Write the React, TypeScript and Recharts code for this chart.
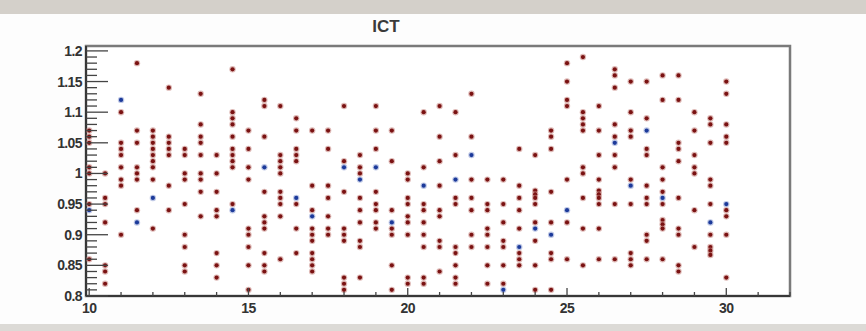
import { ScatterChart, Scatter, XAxis, YAxis, ReferenceArea } from "recharts";

// x positions of the measurement columns
const columns = [
  10, 10.5, 11, 11.5, 12, 12.5, 13, 13.5, 14, 14.5, 15, 15.5, 16, 16.5, 17, 17.5,
  18, 18.5, 19, 19.5, 20, 20.5, 21, 21.5, 22, 22.5, 23, 23.5, 24, 24.5, 25, 25.5,
  26, 26.5, 27, 27.5, 28, 28.5, 29, 29.5, 30,
];

// red markers, one list per column
const redValues = [
  [1.07, 1.06, 1.05, 1.01, 1.0, 0.95, 0.86],
  [1.0, 0.96, 0.95, 0.92, 0.85, 0.84, 0.82],
  [1.1, 1.05, 1.04, 1.03, 1.01, 0.99, 0.98, 0.9],
  [1.18, 1.07, 1.05, 1.01, 1.0, 0.99, 0.94],
  [1.07, 1.06, 1.05, 1.04, 1.03, 1.02, 1.01, 0.99, 0.91],
  [1.14, 1.06, 1.05, 1.04, 1.03, 0.98, 0.94],
  [1.04, 1.03, 1.0, 0.99, 0.95, 0.9, 0.88, 0.85, 0.84],
  [1.13, 1.08, 1.06, 1.05, 1.03, 1.0, 0.99, 0.97, 0.93],
  [1.03, 1.0, 0.97, 0.94, 0.93, 0.87, 0.85, 0.83],
  [1.17, 1.1, 1.09, 1.08, 1.06, 1.04, 1.03, 1.02, 1.01, 0.95],
  [1.07, 1.04, 1.01, 0.99, 0.91, 0.9, 0.88, 0.85, 0.81],
  [1.12, 1.11, 1.06, 0.97, 0.93, 0.92, 0.91, 0.87, 0.85, 0.84],
  [1.11, 1.03, 1.02, 1.01, 1.0, 0.97, 0.96, 0.95, 0.93, 0.86],
  [1.09, 1.07, 1.04, 1.03, 1.02, 0.95, 0.91, 0.87],
  [1.07, 0.98, 0.94, 0.91, 0.9, 0.89, 0.87, 0.86, 0.85, 0.84],
  [1.07, 1.04, 0.98, 0.96, 0.93, 0.91, 0.9],
  [1.11, 1.02, 0.97, 0.91, 0.9, 0.89, 0.83, 0.82, 0.81],
  [1.03, 1.01, 1.0, 0.96, 0.94, 0.92, 0.89, 0.88, 0.83],
  [1.11, 1.07, 1.04, 0.97, 0.95, 0.94, 0.92, 0.91],
  [1.07, 1.02, 0.94, 0.91, 0.9, 0.85, 0.81],
  [1.0, 0.99, 0.96, 0.95, 0.93, 0.92, 0.9, 0.83, 0.82],
  [1.1, 1.01, 0.95, 0.94, 0.92, 0.9, 0.88, 0.83, 0.82],
  [1.11, 1.06, 1.02, 0.98, 0.94, 0.93, 0.89, 0.88, 0.84],
  [1.1, 1.03, 0.96, 0.95, 0.88, 0.87, 0.85, 0.83, 0.82],
  [1.13, 1.06, 0.99, 0.96, 0.94, 0.9, 0.88],
  [0.99, 0.95, 0.94, 0.91, 0.9, 0.88, 0.85, 0.82],
  [0.99, 0.95, 0.92, 0.89, 0.88, 0.85, 0.82],
  [1.04, 0.98, 0.96, 0.94, 0.91, 0.87, 0.86, 0.85],
  [1.03, 0.972, 0.966, 0.96, 0.95, 0.92, 0.89, 0.85, 0.81],
  [1.07, 1.06, 1.04, 0.97, 0.92, 0.87, 0.86, 0.81],
  [1.18, 1.15, 1.12, 1.11, 0.99, 0.92, 0.86],
  [1.19, 1.1, 1.09, 1.08, 1.07, 1.01, 1.0, 0.96, 0.91, 0.85],
  [1.11, 1.07, 1.03, 0.99, 0.972, 0.966, 0.96, 0.95, 0.91, 0.86],
  [1.17, 1.16, 1.14, 1.08, 1.06, 1.03, 1.01, 0.95, 0.86],
  [1.15, 1.1, 1.07, 1.06, 0.99, 0.95, 0.87, 0.86, 0.85],
  [1.15, 1.09, 1.04, 1.03, 0.98, 0.96, 0.95, 0.9, 0.89, 0.86],
  [1.16, 1.12, 1.01, 0.99, 0.97, 0.95, 0.924, 0.917, 0.91, 0.86],
  [1.16, 1.12, 1.05, 1.04, 1.02, 0.96, 0.91, 0.9, 0.85, 0.84],
  [1.1, 1.07, 1.03, 1.01, 1.0, 0.94, 0.88],
  [1.09, 1.08, 1.05, 0.99, 0.98, 0.95, 0.9, 0.88, 0.874, 0.867],
  [1.15, 1.13, 1.08, 1.06, 1.05, 0.94, 0.93, 0.9, 0.83],
];

// blue markers
const blueX = [
  10, 11, 11.5, 12, 14.5, 15.5, 16.5, 17, 18, 18.5, 19, 19.5, 20.5, 21.5, 22, 23,
  23.5, 24, 24.5, 25, 26.5, 27, 27.5, 28, 29.5, 30,
];
const blueY = [
  0.94, 1.12, 0.92, 0.96, 0.94, 1.01, 0.96, 0.93, 1.01, 0.99, 1.01, 0.92, 0.98,
  0.99, 1.03, 0.81, 0.88, 0.91, 0.9, 0.94, 1.05, 0.98, 1.07, 0.96, 0.92, 0.95,
];

const xMajor = [10, 15, 20, 25, 30];
const yMajor = [0.8, 0.85, 0.9, 0.95, 1, 1.05, 1.1, 1.15, 1.2];

const redPoints = columns.flatMap((x, i) => redValues[i].map((y) => ({ x, y })));
const bluePoints = blueX.map((x, i) => ({ x, y: blueY[i] }));

const xTicks: number[] = [];
for (let v = 10; v <= 32; v++) xTicks.push(v);
const yTicks: number[] = [];
for (let k = 80; k <= 120; k++) yTicks.push(k / 100);

const labelFont = {
  fontFamily: "'Liberation Sans', Arial, sans-serif",
  fontWeight: 700,
  fontSize: 14,
  letterSpacing: -0.6,
  fill: "#333",
};

function YTick(props: any) {
  const { x, y, payload } = props;
  const v = payload.value as number;
  const major = yMajor.some((m) => Math.abs(m - v) < 1e-6);
  return (
    <g>
      <line x1={x} x2={x + (major ? 22 : 11)} y1={y} y2={y} stroke="#444" strokeWidth={1.3} />
      {major && (
        <text x={x - 4} y={y} dy={5} textAnchor="end" {...labelFont}>
          {String(Number(v.toFixed(2)))}
        </text>
      )}
    </g>
  );
}

function XTick(props: any) {
  const { x, y, payload } = props;
  const v = payload.value as number;
  const major = xMajor.includes(v);
  return (
    <g>
      <line x1={x} x2={x} y1={y} y2={y - (major ? 8 : 4)} stroke="#444" strokeWidth={1.3} />
      {major && (
        <text x={x} y={y + 17} textAnchor="middle" {...labelFont}>
          {v}
        </text>
      )}
    </g>
  );
}

const dot = (color: string, halo: string) => (p: any) => (
  <g>
    <circle cx={p.cx} cy={p.cy} r={3.2} fill={halo} opacity={0.55} />
    <circle cx={p.cx} cy={p.cy} r={2.1} fill={color} />
  </g>
);

export default function App() {
  return (
    <div
      style={{
        position: "absolute",
        left: 0,
        top: 0,
        width: 866,
        height: 331,
        background: "#fdfdfd",
        overflow: "hidden",
      }}
    >
      <div style={{ position: "absolute", left: 0, top: 0, width: 866, height: 14, background: "#d4d0ca" }} />
      <div style={{ position: "absolute", left: 0, top: 324, width: 866, height: 7, background: "#dcdad6" }} />
      <svg style={{ position: "absolute", left: 0, top: 0 }} width={866} height={46}>
        <text
          x={386}
          y={31.5}
          textAnchor="middle"
          fontFamily="'Liberation Sans', Arial, sans-serif"
          fontWeight={700}
          fontSize={17}
          fill="#3a3a3a"
        >
          ICT
        </text>
      </svg>
      <div style={{ position: "absolute", left: 0, top: 0 }}>
        <ScatterChart
          width={866}
          height={331}
          margin={{ top: 46, right: 76, bottom: 5, left: 0 }}
        >
          <ReferenceArea
            x1={9.9}
            x2={32}
            y1={0.8}
            y2={1.208}
            fill="#ffffff"
            fillOpacity={1}
            stroke="#7a7a7a"
            strokeWidth={2.5}
            ifOverflow="extendDomain"
          />
          <XAxis
            type="number"
            dataKey="x"
            domain={[9.9, 32]}
            allowDataOverflow
            ticks={xTicks}
            interval={0}
            height={30}
            tickSize={0}
            tickMargin={0}
            tick={<XTick />}
            axisLine={{ stroke: "#222", strokeWidth: 1.5 }}
          />
          <YAxis
            type="number"
            dataKey="y"
            domain={[0.8, 1.208]}
            allowDataOverflow
            ticks={yTicks}
            interval={0}
            width={86}
            tickSize={0}
            tickMargin={0}
            tick={<YTick />}
            axisLine={{ stroke: "#222", strokeWidth: 1.5 }}
          />
          <Scatter
            data={redPoints}
            shape={dot("#7a1212", "#c2807a")}
            isAnimationActive={false}
          />
          <Scatter
            data={bluePoints}
            shape={dot("#1c3a9a", "#8a9ad0")}
            isAnimationActive={false}
          />
        </ScatterChart>
      </div>
    </div>
  );
}
